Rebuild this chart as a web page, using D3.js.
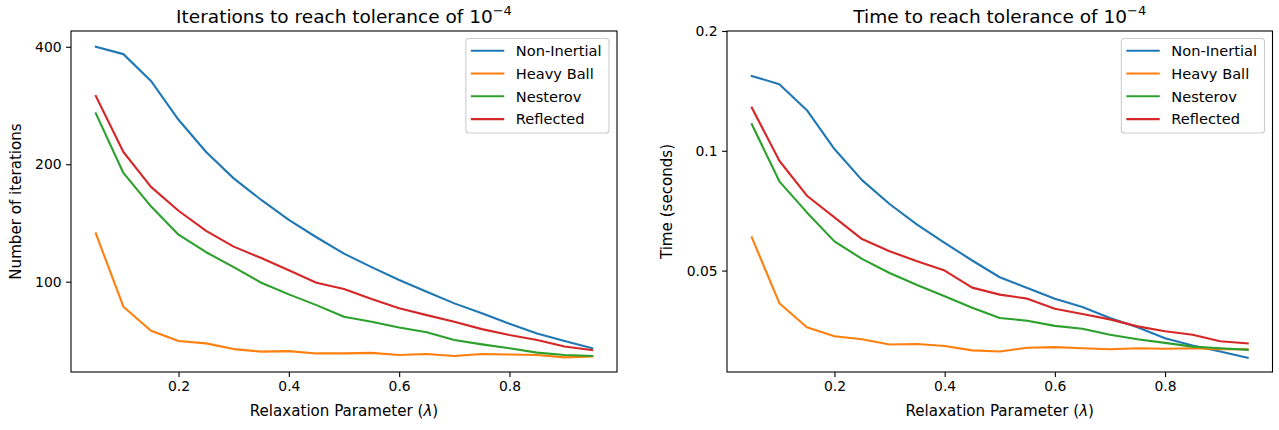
<!DOCTYPE html>
<html>
<head>
<meta charset="utf-8">
<script src="https://cdn.jsdelivr.net/npm/d3@7"></script>
<style>
  body { margin: 0; background: #fff; }
  text { font-family: "DejaVu Sans", sans-serif; fill: #000; }
</style>
</head>
<body>
<script>
// relaxation parameter values
var lambdas = [0.05, 0.1, 0.15, 0.2, 0.25, 0.3, 0.35, 0.4, 0.45, 0.5,
               0.55, 0.6, 0.65, 0.7, 0.75, 0.8, 0.85, 0.9, 0.95];

var seriesNames = ["Non-Inertial", "Heavy Ball", "Nesterov", "Reflected"];

// iterations (left panel)
var iterNonInertial = [400, 383, 327, 260, 215, 184, 162, 144, 130, 118, 109, 101, 94.3, 88, 83, 78, 73.7, 70.5, 67.5];
var iterHeavyBall   = [133, 86.3, 74.9, 70.5, 69.5, 67.2, 66.2, 66.4, 65.5, 65.5, 65.7, 64.9, 65.3, 64.5, 65.3, 65.1, 64.9, 64.0, 64.3];
var iterNesterov    = [270, 190, 156, 132, 119, 109, 99.4, 92.8, 87.1, 81.3, 79, 76.3, 74.2, 70.9, 69.1, 67.5, 65.8, 64.9, 64.5];
var iterReflected   = [299, 215, 175, 152, 135, 123, 115, 107, 99.4, 95.8, 90.3, 85.5, 82.1, 79, 75.6, 73, 70.9, 68.2, 66.8];

// time in seconds (right panel)
var timeNonInertial = [0.1542, 0.147, 0.1265, 0.101, 0.0844, 0.0735, 0.0652, 0.0587, 0.053, 0.0481, 0.0452, 0.0425, 0.0405, 0.038, 0.036, 0.0338, 0.0324, 0.0313, 0.0302];
var timeHeavyBall   = [0.0606, 0.0414, 0.036, 0.0342, 0.0336, 0.0326, 0.0327, 0.0323, 0.0315, 0.0313, 0.032, 0.0321, 0.0319, 0.0317, 0.0319, 0.0318, 0.0319, 0.0317, 0.0317];
var timeNesterov    = [0.1166, 0.0838, 0.07, 0.0592, 0.0535, 0.0493, 0.046, 0.0431, 0.0403, 0.038, 0.0374, 0.0363, 0.0357, 0.0345, 0.0336, 0.0329, 0.0322, 0.0319, 0.0316];
var timeReflected   = [0.1284, 0.0944, 0.0771, 0.068, 0.06, 0.0559, 0.0528, 0.05, 0.0453, 0.0435, 0.0425, 0.0401, 0.0389, 0.0377, 0.0362, 0.0352, 0.0345, 0.0332, 0.0328];

// tick labels
var xTicks = [0.2, 0.4, 0.6, 0.8];
var iterTicks = [100, 200, 400];
var timeTicks = [0.05, 0.1, 0.2];

var colors = ["#1f77b4", "#ff7f0e", "#2ca02c", "#d62728"];

var width = 1279, height = 430,
    plotTop = 31, plotBottom = 372,
    tickFont = 13.9, labelFont = 15.1, legendFont = 14.6, titleFont = 18.5;

var svg = d3.select("body").append("svg")
    .attr("width", width)
    .attr("height", height);

function drawPanel(p) {
    var x = d3.scaleLinear().domain([0.005, 0.995]).range([p.left, p.right]);
    var y = d3.scaleLog().domain(p.yDomain).range([plotBottom, plotTop]);

    var g = svg.append("g");

    // lines
    var line = d3.line()
        .x((d, i) => x(lambdas[i]))
        .y(d => y(d));

    p.series.forEach((s, i) => {
        g.append("path")
            .datum(s)
            .attr("fill", "none")
            .attr("stroke", colors[i])
            .attr("stroke-width", 2.1)
            .attr("stroke-linejoin", "round")
            .attr("stroke-linecap", "square")
            .attr("d", line);
    });

    // Add the X Axis
    var xAxis = g.append("g")
        .attr("transform", `translate(0,${plotBottom})`)
        .call(d3.axisBottom(x).tickValues(xTicks).tickSize(4.9).tickPadding(4.5).tickFormat(d3.format(".1f")));
    xAxis.select(".domain").remove();

    // Add the Y Axis
    var yAxis = g.append("g")
        .attr("transform", `translate(${p.left},0)`)
        .call(d3.axisLeft(y).tickValues(p.yTicks).tickSize(4.9).tickPadding(4.5).tickFormat(d3.format("~g")));
    yAxis.select(".domain").remove();

    g.selectAll(".tick line").attr("stroke", "#000").attr("stroke-width", 1.1);
    g.selectAll(".tick text")
        .style("font-family", "DejaVu Sans")
        .style("font-size", tickFont + "px")
        .attr("fill", "#000");

    // frame
    g.append("rect")
        .attr("x", p.left)
        .attr("y", plotTop)
        .attr("width", p.right - p.left)
        .attr("height", plotBottom - plotTop)
        .attr("fill", "none")
        .attr("stroke", "#000")
        .attr("stroke-width", 1.1);

    var cx = (p.left + p.right) / 2;

    // title
    var title = g.append("text")
        .attr("x", cx)
        .attr("y", 22.7)
        .attr("text-anchor", "middle")
        .style("font-size", titleFont + "px")
        .text(p.title + " 10");
    title.append("tspan")
        .attr("dy", -7.5)
        .style("font-size", "13px")
        .text("\u22124");

    // x label
    var xl = g.append("text")
        .attr("x", cx)
        .attr("y", 415.5)
        .attr("text-anchor", "middle")
        .style("font-size", labelFont + "px")
        .text("Relaxation Parameter (");
    xl.append("tspan").style("font-style", "italic").text("\u03bb");
    xl.append("tspan").text(")");

    // y label
    g.append("text")
        .attr("transform", `translate(${p.yLabelX},${(plotTop + plotBottom) / 2}) rotate(-90)`)
        .attr("text-anchor", "middle")
        .style("font-size", labelFont + "px")
        .text(p.yLabel);

    // legend
    var legend = g.append("g");
    var frame = legend.append("rect");
    var rowH = 22.8, rowY0 = plotTop + 19.7;
    var labels = seriesNames.map((name, i) => legend.append("text")
        .attr("y", rowY0 + i * rowH + 5.3)
        .style("font-size", legendFont + "px")
        .text(name));
    var maxW = d3.max(labels, t => t.node().getComputedTextLength());
    var boxRight = p.right - 8,
        textStart = boxRight - 7.5 - maxW,
        lineEnd = textStart - 11.6,
        lineStart = lineEnd - 33.4,
        boxLeft = lineStart - 5;
    labels.forEach(t => t.attr("x", textStart));
    seriesNames.forEach((name, i) => {
        legend.append("line")
            .attr("x1", lineStart)
            .attr("x2", lineEnd)
            .attr("y1", rowY0 + i * rowH)
            .attr("y2", rowY0 + i * rowH)
            .attr("stroke", colors[i])
            .attr("stroke-width", 2.1);
    });
    frame
        .attr("x", boxLeft)
        .attr("y", plotTop + 7.5)
        .attr("width", boxRight - boxLeft)
        .attr("height", 94.5)
        .attr("rx", 3)
        .attr("fill", "#fff")
        .attr("fill-opacity", 0.8)
        .attr("stroke", "#cccccc")
        .attr("stroke-width", 1.1);
}

drawPanel({
    left: 71, right: 617,
    yDomain: [58.7, 439],
    yTicks: iterTicks,
    title: "Iterations to reach tolerance of",
    yLabel: "Number of iterations",
    yLabelX: 21,
    series: [iterNonInertial, iterHeavyBall, iterNesterov, iterReflected]
});

drawPanel({
    left: 727, right: 1272.5,
    yDomain: [0.0278, 0.2],
    yTicks: timeTicks,
    title: "Time to reach tolerance of",
    yLabel: "Time (seconds)",
    yLabelX: 672,
    series: [timeNonInertial, timeHeavyBall, timeNesterov, timeReflected]
});
</script>
</body>
</html>
